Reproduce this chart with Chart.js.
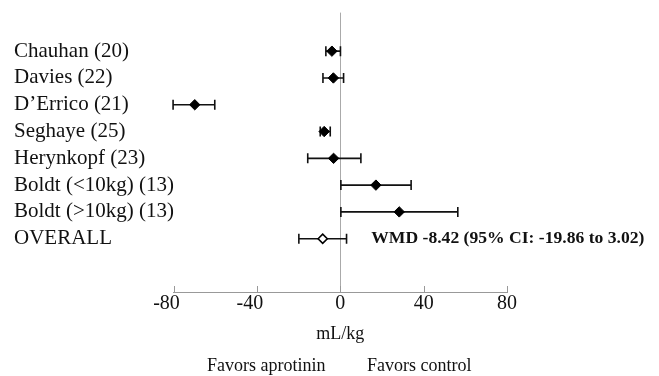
<!DOCTYPE html>
<html>
<head>
<meta charset="utf-8">
<script src="https://cdn.jsdelivr.net/npm/chart.js@4/dist/chart.umd.min.js"></script>
<style>
html,body{margin:0;padding:0;background:#fff;}
canvas{display:block;}
</style>
</head>
<body>
<canvas id="c" width="659" height="376"></canvas>
<script>
// ---- data ----
const studies = ['Chauhan (20)', 'Davies (22)', 'D\u2019Errico (21)', 'Seghaye (25)', 'Herynkopf (23)', 'Boldt (<10kg) (13)', 'Boldt (>10kg) (13)', 'OVERALL'];
const estimates = [-4.0, -3.3, -69.8, -7.7, -3.2, 17.1, 28.3, -8.42];
const lowerCI = [-6.9, -8.3, -80.2, -9.6, -15.6, 0.3, 0.3, -19.86];
const upperCI = [0.1, 1.6, -60.2, -4.8, 9.9, 34.0, 56.4, 3.02];
const xTicks = [-80, -40, 0, 40, 80];
const summaryText = 'WMD -8.42 (95% CI: -19.86 to 3.02)';
const axisTitle = 'mL/kg';
const favorsLeft = 'Favors aprotinin';
const favorsRight = 'Favors control';

const FONT = "'Liberation Serif', 'Times New Roman', serif";
const nStudies = studies.length - 1;

const studyPoints = estimates.slice(0, nStudies).map((v, i) => ({x: v, y: i}));
const overallPoint = [{x: estimates[nStudies], y: nStudies}];

const errorBars = {
  id: 'errorBars',
  beforeDatasetsDraw(chart) {
    const {ctx, scales: {x, y}} = chart;
    ctx.save();
    ctx.strokeStyle = '#111';
    ctx.lineWidth = 1.6;
    const cap = 5;
    for (let i = 0; i < studies.length; i++) {
      const py = y.getPixelForValue(i);
      const x1 = x.getPixelForValue(lowerCI[i]);
      const x2 = x.getPixelForValue(upperCI[i]);
      ctx.beginPath();
      ctx.moveTo(x1, py); ctx.lineTo(x2, py);
      ctx.moveTo(x1, py - cap); ctx.lineTo(x1, py + cap);
      ctx.moveTo(x2, py - cap); ctx.lineTo(x2, py + cap);
      ctx.stroke();
    }
    ctx.restore();
  },
  afterDraw(chart) {
    const {ctx, scales: {x, y}, chartArea} = chart;
    ctx.save();
    // upward tick marks on x axis
    ctx.strokeStyle = '#999';
    ctx.lineWidth = 1;
    xTicks.forEach(t => {
      const px = Math.round(x.getPixelForValue(t)) + 0.5;
      ctx.beginPath();
      ctx.moveTo(px, chartArea.bottom - 6);
      ctx.lineTo(px, chartArea.bottom);
      ctx.stroke();
    });
    // summary text
    const zero = x.getPixelForValue(0);
    ctx.fillStyle = '#111';
    ctx.font = 'bold 17.6px ' + FONT;
    ctx.textAlign = 'left';
    ctx.textBaseline = 'middle';
    ctx.fillText(summaryText, zero + 31, y.getPixelForValue(nStudies));
    // favors texts
    ctx.font = '18px ' + FONT;
    ctx.textAlign = 'center';
    ctx.fillText(favorsLeft, zero - 74, 366);
    ctx.fillText(favorsRight, zero + 79, 366);
    ctx.restore();
  }
};

new Chart(document.getElementById('c'), {
  type: 'scatter',
  data: {
    datasets: [
      {
        data: studyPoints,
        pointStyle: 'rectRot',
        pointRadius: 5.2,
        backgroundColor: '#000',
        borderColor: '#000',
        borderWidth: 1
      },
      {
        data: overallPoint,
        pointStyle: 'rectRot',
        pointRadius: 4.6,
        backgroundColor: '#fff',
        borderColor: '#000',
        borderWidth: 1.6
      }
    ]
  },
  options: {
    responsive: false,
    devicePixelRatio: 1,
    animation: false,
    layout: {padding: {left: 14, right: 152, top: 10, bottom: 0}},
    plugins: {legend: {display: false}, tooltip: {enabled: false}},
    scales: {
      x: {
        type: 'linear',
        min: -80, max: 80,
        afterBuildTicks: s => { s.ticks = xTicks.map(v => ({value: v})); },
        ticks: {
          color: '#111',
          font: {family: FONT, size: 20},
          padding: 0,
          autoSkip: false,
          maxRotation: 0,
          // negative labels sit slightly left of their tick in the reference
          callback: v => v < 0 ? String(v) + '\u2002\u2009' : String(v)
        },
        grid: {
          drawTicks: false,
          color: c => (c.tick && c.tick.value === 0) ? '#aaa' : 'rgba(0,0,0,0)',
          lineWidth: 1
        },
        border: {display: true, color: '#999', width: 1},
        title: {
          display: true,
          text: axisTitle,
          color: '#111',
          font: {family: FONT, size: 18},
          padding: {top: 0, bottom: 31}
        },
        afterFit: s => { s.height = 84; }
      },
      y: {
        type: 'linear',
        reverse: true,
        min: -1.44, max: 8.99,
        afterBuildTicks: s => { s.ticks = studies.map((_, i) => ({value: i})); },
        ticks: {
          color: '#111',
          font: {family: FONT, size: 21},
          crossAlign: 'far',
          autoSkip: false,
          padding: 0,
          callback: v => studies[v]
        },
        grid: {display: false, drawTicks: false},
        border: {display: false},
        afterFit: s => { s.width = 159.5; }
      }
    }
  },
  plugins: [errorBars]
});
</script>
</body>
</html>
